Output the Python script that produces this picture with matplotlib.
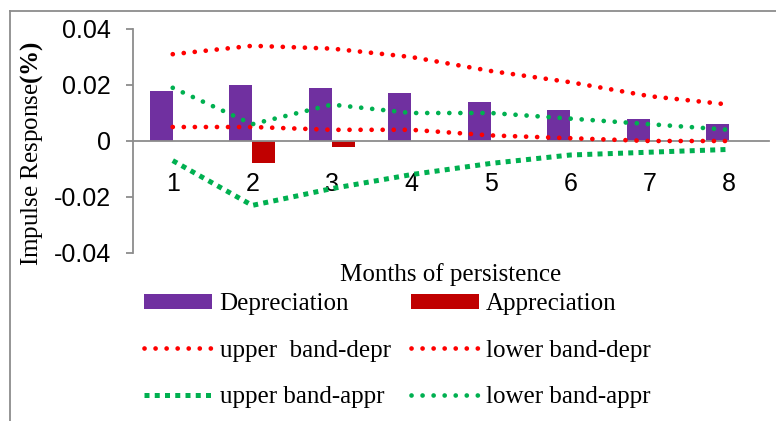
import numpy as np
import matplotlib
matplotlib.use("Agg")
import matplotlib.pyplot as plt
from matplotlib.lines import Line2D

plt.rcParams['font.family'] = ['Liberation Sans', 'DejaVu Sans']
plt.rcParams['mathtext.fontset'] = 'custom'
plt.rcParams['mathtext.rm'] = 'Liberation Serif'
plt.rcParams['mathtext.bf'] = 'Liberation Serif:bold'

months = [1, 2, 3, 4, 5, 6, 7, 8]
depreciation = [0.018, 0.020, 0.019, 0.017, 0.014, 0.011, 0.008, 0.006]
appreciation = [0.0, -0.008, -0.002, 0.0, 0.0, 0.0, 0.0, 0.0]
upper_depr = [0.031, 0.034, 0.033, 0.030, 0.025, 0.021, 0.016, 0.013]
lower_depr = [0.005, 0.005, 0.004, 0.004, 0.002, 0.001, 0.0, 0.0]
upper_appr = [-0.007, -0.023, -0.017, -0.012, -0.008, -0.005, -0.004, -0.003]
lower_appr = [0.019, 0.006, 0.013, 0.010, 0.010, 0.008, 0.006, 0.004]
yticks = [-0.04, -0.02, 0, 0.02, 0.04]
ytick_labels = ["-0.04", "-0.02", "0", "0.02", "0.04"]

W, H = 776, 421
fig = plt.figure(figsize=(W / 100, H / 100), dpi=100)
ax = fig.add_axes([133 / W, 1 - 253 / H, (769 - 133) / W, (253 - 29) / H])

x = np.array(months)
bw = 0.29
purple = "#7030A0"
darkred = "#C00000"
red = "#FF0000"
green = "#00B050"
grey = "#8C8C8C"

b_dep = ax.bar(x - bw / 2, depreciation, bw, color=purple, zorder=2)
b_app = ax.bar(x + bw / 2, appreciation, bw, color=darkred, zorder=2)

dot = dict(linestyle=(0, (0.01, 2.33)), dash_capstyle="round", lw=3.4, zorder=3)
l_ud, = ax.plot(x, upper_depr, color=red, **dot)
l_ld, = ax.plot(x, lower_depr, color=red, **dot)
l_ua, = ax.plot(x, upper_appr, color=green, linestyle=(0, (1, 1.05)),
                dash_capstyle="butt", lw=3.6, zorder=3)
l_la, = ax.plot(x, lower_appr, color=green, **dot)

ax.set_xlim(0.5, 8.5)
ax.set_ylim(-0.04, 0.04)
ax.set_yticks(yticks)
ax.set_yticklabels(ytick_labels)
ax.set_xticks(x)
ax.set_xticklabels([str(m) for m in months])

for s in ["top", "right"]:
    ax.spines[s].set_visible(False)
ax.spines["bottom"].set_position(("data", 0))
ax.spines["bottom"].set_color(grey)
ax.spines["bottom"].set_linewidth(1.3)
ax.spines["left"].set_color(grey)
ax.spines["left"].set_linewidth(1.3)
ax.tick_params(axis="x", length=0, pad=22, labelsize=18)
ax.tick_params(axis="y", length=5, width=1.3, color=grey, pad=11, labelsize=18)
ax.patch.set_alpha(0)

fig.text(32 / W, 1 - 153 / H, r"Impulse Response$\mathbf{(\%)}$", rotation=90,
         ha="center", va="center", fontsize=18, family="Liberation Serif")
fig.text(451 / W, 1 - 275 / H, "Months of persistence", ha="center", va="center",
         fontsize=18, family="Liberation Serif")

# legend filled column by column
handles = [b_dep, l_ud, l_ua, b_app, l_ld, l_la]
labels = ["Depreciation", "upper  band-depr", "upper band-appr",
          "Appreciation", "lower band-depr", "lower band-appr"]
fig.legend(handles, labels, ncol=2, loc="upper left",
           bbox_to_anchor=(144 / W, 1 - 293 / H), frameon=False,
           prop={"family": "Liberation Serif", "size": 18}, handlelength=2.72,
           handletextpad=0.3, columnspacing=0.8, labelspacing=0.98,
           borderpad=0, borderaxespad=0, handleheight=0.55)

fig.add_artist(Line2D([10 / W, 1], [1 - 10.5 / H, 1 - 10.5 / H], color=grey, lw=1.3,
                      transform=fig.transFigure))
fig.add_artist(Line2D([10 / W, 10 / W], [0, 1 - 10.5 / H], color=grey, lw=1.3,
                      transform=fig.transFigure))

fig.savefig("out.png", dpi=100)
